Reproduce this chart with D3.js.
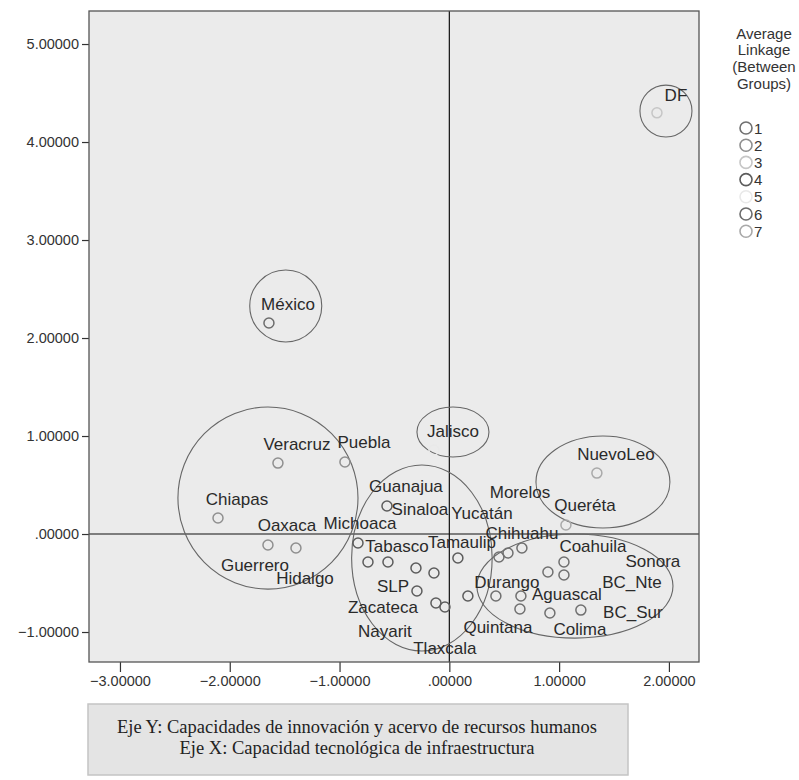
<!DOCTYPE html>
<html>
<head>
<meta charset="utf-8">
<script src="https://cdn.jsdelivr.net/npm/d3@7"></script>
<style>
  html, body { margin: 0; padding: 0; background: #ffffff; }
  svg { display: block; }
  text { font-family: "Liberation Sans", Arial, sans-serif; }
</style>
</head>
<body>
<svg id="chart" width="799" height="780"></svg>
<script>
// States (abbreviated names as printed), factor scores and cluster membership
const states = ["DF", "México", "Jalisco", "Veracruz", "Puebla", "Chiapas", "Oaxaca", "Guerrero",
  "Michoaca", "Guanajua", "Hidalgo", "Tabasco", "Sinaloa", "Tamaulip", "Yucatán", "SLP",
  "Zacateca", "Nayarit", "Tlaxcala", "Durango", "Aguascal", "Quintana", "Morelos", "Chihuahu",
  "Campeche", "Coahuila", "Sonora", "BC_Nte", "Colima", "BC_Sur", "NuevoLeo", "Queréta"];
// Eje X: capacidad tecnológica de infraestructura
const xValues = [1.891, -1.643, -0.140, -1.561, -0.951, -2.107, -1.652, -1.397,
  -0.832, -0.568, -0.741, -0.559, -0.304, -0.140, 0.078, -0.295,
  -0.122, -0.040, 0.169, 0.424, 0.652, 0.643, 0.452, 0.534,
  0.661, 1.044, 0.898, 1.044, 0.916, 1.198, 1.344, 1.062];
// Eje Y: capacidades de innovación y acervo de recursos humanos
const yValues = [4.298, 2.153, 0.857, 0.724, 0.735, 0.163, -0.112, -0.143,
  -0.092, 0.286, -0.286, -0.286, -0.347, -0.398, -0.245, -0.582,
  -0.704, -0.745, -0.633, -0.633, -0.633, -0.765, -0.235, -0.194,
  -0.143, -0.286, -0.388, -0.418, -0.806, -0.776, 0.622, 0.092];
// Average linkage (between groups) cluster of each state
const clusters = [3, 6, 5, 2, 2, 2, 2, 2,
  4, 4, 4, 4, 4, 4, 4, 4,
  4, 4, 4, 1, 1, 1, 1, 1,
  1, 1, 1, 1, 1, 1, 7, 7];
const clusterIds = [1, 2, 3, 4, 5, 6, 7];

// Group outlines: centre (x, y) and half-widths (rx, ry) in factor units
const groupCx = [1.973, -1.490, 0.033, 1.399, -1.652, -0.250, 1.144];
const groupCy = [4.316, 2.327, 1.041, 0.531, 0.367, -0.245, -0.531];
const groupRx = [0.237, 0.328, 0.328, 0.610, 0.820, 0.640, 0.893];
const groupRy = [0.265, 0.367, 0.255, 0.469, 0.929, 0.949, 0.531];

const xTicks = [-3, -2, -1, 0, 1, 2];
const yTicks = [-1, 0, 1, 2, 3, 4, 5];
const legendTitle = ["Average", "Linkage", "(Between", "Groups)"];
const captionLines = [
  "Eje Y: Capacidades de innovación y acervo de recursos humanos",
  "Eje X: Capacidad tecnológica de infraestructura"
];

// ---- layout ----
const frame = { left: 89, right: 699, top: 11, bottom: 662 };
const xScale = d3.scaleLinear().domain([-3.282, 2.274]).range([frame.left, frame.right]);
const yScale = d3.scaleLinear().domain([-1.306, 5.337]).range([frame.bottom, frame.top]);

const clusterColor = d3.scaleOrdinal()
  .domain(clusterIds)
  .range(["#707070", "#8f8f8f", "#c6c6c6", "#5c5c5c", "#e9e9e9", "#6c6c6c", "#a9a9a9"]);

// label placement relative to each point (px); default is above-right
const labelDefault = [19, -19];
const labelShift = {
  "DF": [19, -17], "Guerrero": [-41, 17], "Michoaca": [2, -20], "Hidalgo": [-63, 16],
  "Tabasco": [9, -16], "Sinaloa": [4, -59], "Tamaulip": [28, -31], "Yucatán": [24, -45],
  "SLP": [-24, -5], "Zacateca": [-53, 4], "Nayarit": [-60, 24], "Tlaxcala": [-23, 52],
  "Durango": [11, -14], "Aguascal": [46, -2], "Quintana": [-22, 19], "Morelos": [21, -65],
  "Chihuahu": [14, -20], "Coahuila": [29, -16], "Sonora": [105, -11], "BC_Nte": [68, 8],
  "Colima": [30, 16], "BC_Sur": [52, 2], "Campeche": null
};

const svg = d3.select("#chart");

// plot background
svg.append("rect")
  .attr("x", frame.left).attr("y", frame.top)
  .attr("width", frame.right - frame.left).attr("height", frame.bottom - frame.top)
  .attr("fill", "#ebebeb");

// reference lines through the origin
svg.append("line")
  .attr("x1", xScale(0)).attr("x2", xScale(0))
  .attr("y1", frame.top).attr("y2", frame.bottom)
  .attr("stroke", "#111").attr("stroke-width", 1.2);
svg.append("line")
  .attr("x1", frame.left).attr("x2", frame.right)
  .attr("y1", yScale(0)).attr("y2", yScale(0))
  .attr("stroke", "#111").attr("stroke-width", 1.2);

// axes
const fmt = v => {
  const s = d3.format(".5f")(v);
  return s.replace(/^0\./, ".").replace(/^-0\./, "-.");
};
const yAxis = d3.axisLeft(yScale).tickValues(yTicks).tickFormat(fmt).tickSize(7).tickPadding(3);
const xAxis = d3.axisBottom(xScale).tickValues(xTicks).tickFormat(fmt).tickSize(10).tickPadding(4);

const gy = svg.append("g").attr("transform", `translate(${frame.left},0)`).call(yAxis);
const gx = svg.append("g").attr("transform", `translate(0,${frame.bottom})`).call(xAxis);
[gy, gx].forEach(g => {
  g.select(".domain").remove();
  g.selectAll(".tick line").attr("stroke", "#333").attr("stroke-width", 1.2);
  g.selectAll(".tick text").attr("fill", "#333").style("font-size", "14.5px")
    .style("font-family", "'Liberation Sans', Arial, sans-serif");
});

// plot frame
svg.append("rect")
  .attr("x", frame.left).attr("y", frame.top)
  .attr("width", frame.right - frame.left).attr("height", frame.bottom - frame.top)
  .attr("fill", "none").attr("stroke", "#555").attr("stroke-width", 1.3);

// group outlines
const groups = d3.range(groupCx.length);
svg.append("g").selectAll("ellipse").data(groups).join("ellipse")
  .attr("cx", i => xScale(groupCx[i]))
  .attr("cy", i => yScale(groupCy[i]))
  .attr("rx", i => xScale(groupRx[i]) - xScale(0))
  .attr("ry", i => yScale(0) - yScale(groupRy[i]))
  .attr("fill", "none").attr("stroke", "#666").attr("stroke-width", 1.1);

// points
const idx = d3.range(states.length);
svg.append("g").selectAll("circle").data(idx).join("circle")
  .attr("cx", i => xScale(xValues[i]))
  .attr("cy", i => yScale(yValues[i]))
  .attr("r", 5)
  .attr("fill", "none")
  .attr("stroke", i => clusterColor(clusters[i]))
  .attr("stroke-width", 1.5);

// point labels
svg.append("g").selectAll("text")
  .data(idx.filter(i => labelShift[states[i]] !== null))
  .join("text")
  .attr("x", i => xScale(xValues[i]) + (labelShift[states[i]] || labelDefault)[0])
  .attr("y", i => yScale(yValues[i]) + (labelShift[states[i]] || labelDefault)[1])
  .attr("text-anchor", "middle")
  .attr("dominant-baseline", "central")
  .attr("fill", "#2a2a2a")
  .style("font-size", "17px")
  .text(i => states[i]);

// legend
const legend = svg.append("g");
legend.selectAll("text.title").data(legendTitle).join("text")
  .attr("class", "title")
  .attr("x", 764).attr("y", (d, i) => 33 + i * 16.7)
  .attr("text-anchor", "middle").attr("dominant-baseline", "central")
  .attr("fill", "#333").style("font-size", "15px")
  .text(d => d);
const items = legend.selectAll("g.item").data(clusterIds).join("g")
  .attr("class", "item")
  .attr("transform", (d, i) => `translate(746,${128 + i * 17.2})`);
items.append("circle").attr("r", 6).attr("fill", "none")
  .attr("stroke", d => clusterColor(d)).attr("stroke-width", 1.6);
items.append("text").attr("x", 8).attr("dominant-baseline", "central")
  .attr("fill", "#333").style("font-size", "15px").text(d => d);

// caption box
const cap = svg.append("g");
cap.append("rect").attr("x", 88).attr("y", 704).attr("width", 540).attr("height", 71)
  .attr("fill", "#e4e4e4").attr("stroke", "#c4c4c4").attr("stroke-width", 1.5);
cap.selectAll("text").data(captionLines).join("text")
  .attr("x", 357).attr("y", (d, i) => 727 + i * 21)
  .attr("text-anchor", "middle").attr("dominant-baseline", "central")
  .attr("fill", "#222")
  .style("font-family", "'Liberation Serif', 'Times New Roman', serif")
  .style("font-size", "18.5px")
  .text(d => d);
</script>
</body>
</html>
